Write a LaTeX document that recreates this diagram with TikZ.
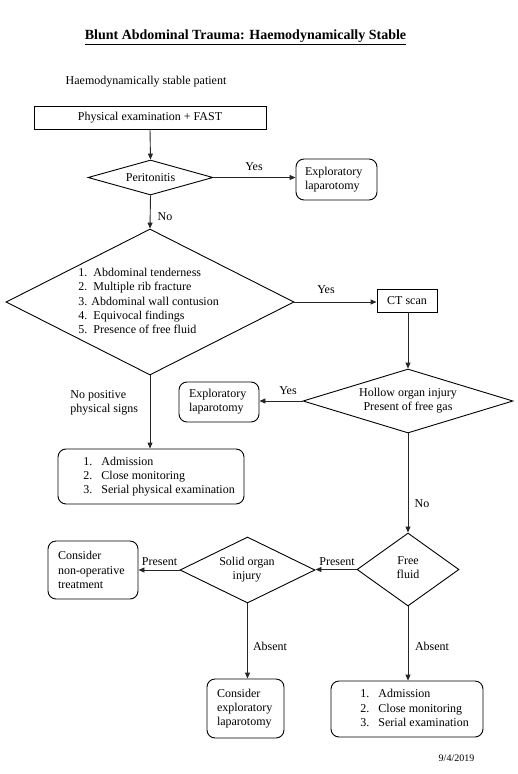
\documentclass[tikz,border=0pt]{standalone}
\usepackage{fontspec}
\setmainfont{Liberation Serif}
\usetikzlibrary{shapes.geometric,arrows.meta}
\begin{document}
\begin{tikzpicture}[x=1pt,y=-1pt,
  font=\fontsize{12}{14.2}\selectfont,
  line width=0.9pt,
  arr/.style={draw=black!85,line width=0.9pt,-{Triangle[length=6pt,width=5pt]}},
  sqbox/.style={draw,rectangle,inner sep=0pt},
  rbox/.style={draw,rectangle,rounded corners=8pt,inner sep=0pt,align=left},
  dia/.style={draw,diamond,inner sep=0pt},
  lbl/.style={inner sep=0pt,anchor=center},
  lst/.style={inner sep=0pt,anchor=west,align=left}]
\useasboundingbox (0,0) rectangle (518,774);

\node[lbl,font=\fontsize{14}{16}\selectfont\bfseries] (title) at (245.5,37) {\underline{Blunt Abdominal Trauma: Haemodynamically Stable}};
\node[lbl] (pat) at (146,82) {Haemodynamically stable patient};

\node[sqbox,minimum width=232pt,minimum height=23pt] (pe) at (150,117.5) {Physical examination + FAST};

\node[dia,minimum width=125pt,minimum height=35pt] (perit) at (150.5,177.5) {};
\node[lbl] (peritt) at (150.5,178) {Peritonitis};

\node[rbox,minimum width=81pt,minimum height=41pt,text width=63pt,inner xsep=9pt] (expl1) at (336.5,179.5) {Exploratory\\laparotomy};

\node[dia,minimum width=288pt,minimum height=146pt] (big) at (150,302) {};
\node[lst] (bigt) at (78,301) {\makebox[15pt][l]{1.}Abdominal tenderness\\\makebox[15pt][l]{2.}Multiple rib fracture\\3. Abdominal wall contusion\\\makebox[15pt][l]{4.}Equivocal findings\\\makebox[15pt][l]{5.}Presence of free fluid};

\node[sqbox,minimum width=60pt,minimum height=23pt] (ct) at (407,300.5) {CT scan};

\node[dia,minimum width=210pt,minimum height=64pt] (hollow) at (408,401) {};
\node[lbl,align=center] (hollowt) at (408,401) {Hollow organ injury\\Present of free gas};

\node[rbox,minimum width=80pt,minimum height=40pt,text width=60pt,inner xsep=10pt] (expl2) at (219,402) {Exploratory\\laparotomy};

\node[rbox,minimum width=186pt,minimum height=55pt] (adm1) at (151,476.5) {};
\node[lst] (adm1t) at (83,476.5) {\makebox[18pt][l]{1.}Admission\\\makebox[18pt][l]{2.}Close monitoring\\\makebox[18pt][l]{3.}Serial physical examination};

\node[dia,minimum width=102pt,minimum height=73pt] (free) at (408,569.5) {};
\node[lbl,align=center] (freet) at (408,568) {Free\\fluid};

\node[dia,minimum width=135pt,minimum height=66pt] (solid) at (247.5,570) {};
\node[lbl,align=center] (solidt) at (247,570) {Solid organ\\injury};

\node[rbox,minimum width=90pt,minimum height=58pt,text width=70pt,inner xsep=10pt] (nonop) at (93,570) {Consider\\non-operative\\treatment};

\node[rbox,minimum width=77pt,minimum height=59pt,text width=57pt,inner xsep=10pt] (cexp) at (245.5,708.5) {Consider\\exploratory\\laparotomy};

\node[rbox,minimum width=152pt,minimum height=56pt] (adm2) at (407,709) {};
\node[lst] (adm2t) at (360,708) {\makebox[18pt][l]{1.}Admission\\\makebox[18pt][l]{2.}Close monitoring\\\makebox[18pt][l]{3.}Serial examination};

\node[lbl,font=\fontsize{10}{12}\selectfont] (date) at (456.5,758) {9/4/2019};

% connectors
\draw[arr] (pe.south) -- (perit.north);
\draw[arr] (perit.east) -- (perit.east -| expl1.west);
\draw[arr] (perit.south) -- (big.north);
\draw[arr] (big.east) -- (big.east -| ct.west);
\draw[arr] (ct.south -| hollow.north) -- (hollow.north);
\draw[arr] (hollow.west) -- (hollow.west -| expl2.east);
\draw[arr] (big.south) -- (big.south |- adm1.north);
\draw[arr] (hollow.south) -- (free.north);
\draw[arr] (free.west) -- (free.west -| solid.east);
\draw[arr] (solid.west) -- (solid.west -| nonop.east);
\draw[arr] (solid.south) -- (solid.south |- cexp.north);
\draw[arr] (free.south) -- (free.south |- adm2.north);

% labels
\node[lbl] (y1) at (254,167) {Yes};
\node[lbl] (n1) at (165,217) {No};
\node[lbl] (y2) at (326,290) {Yes};
\node[lbl] (y3) at (288,391) {Yes};
\node[lst] (nps) at (70,403) {No positive\\physical signs};
\node[lbl] (n2) at (422,504) {No};
\node[lbl] (p1) at (337,562) {Present};
\node[lbl] (p2) at (159.5,562) {Present};
\node[lbl] (a1) at (270,646) {Absent};
\node[lbl] (a2) at (432,646) {Absent};
\end{tikzpicture}
\end{document}
